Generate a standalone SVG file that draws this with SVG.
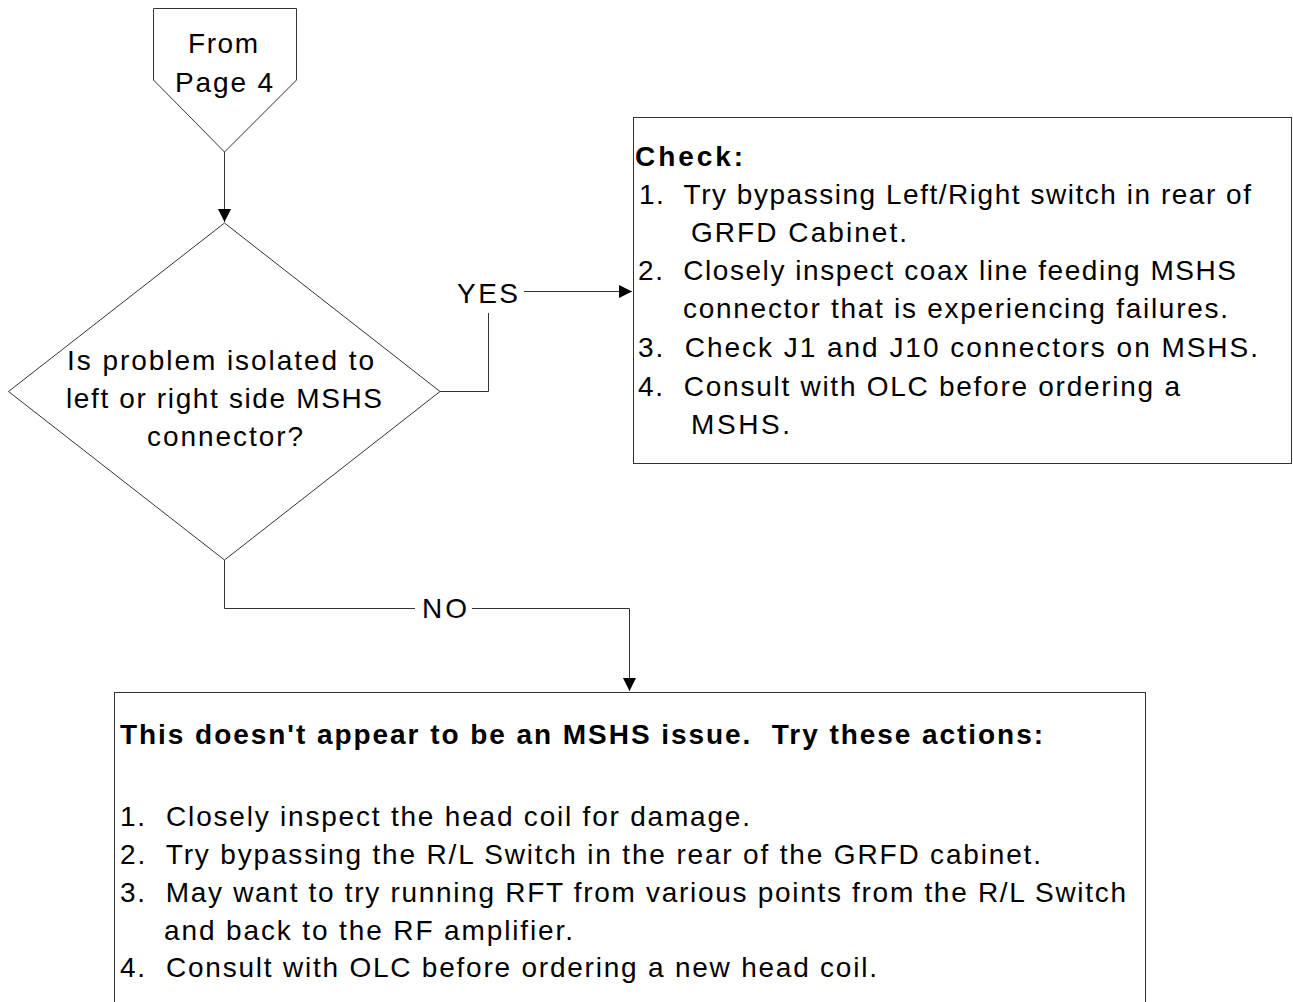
<svg xmlns="http://www.w3.org/2000/svg" width="1293" height="1002" viewBox="0 0 1293 1002">
<style>
text{font-family:"Liberation Sans",Arial,sans-serif;font-size:28px;fill:#000;white-space:pre}
.b{font-weight:bold}
.shape{fill:#fff;stroke:#333;stroke-width:1}
.line{fill:none;stroke:#333;stroke-width:1}
</style>
<defs>
<marker id="arr" markerUnits="userSpaceOnUse" markerWidth="14" markerHeight="14" refX="13" refY="7" orient="auto">
<path d="M0,0.5 L13,7 L0,13.5 Z" fill="#000"/>
</marker>
</defs>
<rect width="1293" height="1002" fill="#fff"/>

<g id="connectors">
<path class="line" d="M224.5,152 V222" marker-end="url(#arr)"/>
<path class="line" d="M440,391.5 H488.5 V313"/>
<path class="line" d="M524,291.5 H632" marker-end="url(#arr)"/>
<path class="line" d="M224.5,560 V608.5 H415"/>
<path class="line" d="M472,608.5 H629.5 V691" marker-end="url(#arr)"/>
<text x="457" y="303" textLength="61" lengthAdjust="spacing">YES</text>
<text x="422" y="618" textLength="45" lengthAdjust="spacing">NO</text>
</g>

<g id="node-offpage">
<polygon class="shape" points="153.5,8.5 296.5,8.5 296.5,80 224.5,152 153.5,80"/>
<text x="188" y="53" textLength="70" lengthAdjust="spacing">From</text>
<text x="175" y="92" textLength="98" lengthAdjust="spacing">Page 4</text>
</g>

<g id="node-decision">
<polygon class="shape" points="224.5,223 440,391.5 224.5,560 8.5,391.5"/>
<text x="67" y="370" textLength="307" lengthAdjust="spacing">Is problem isolated to</text>
<text x="66" y="408" textLength="316" lengthAdjust="spacing">left or right side MSHS</text>
<text x="147" y="446" textLength="156" lengthAdjust="spacing">connector?</text>
</g>

<g id="node-check">
<rect class="shape" x="633.5" y="117.5" width="658" height="346"/>
<text class="b" x="635" y="166" textLength="108" lengthAdjust="spacing">Check:</text>
<text x="639" y="204" textLength="612" lengthAdjust="spacing">1.  Try bypassing Left/Right switch in rear of</text>
<text x="691" y="242" textLength="216" lengthAdjust="spacing">GRFD Cabinet.</text>
<text x="638" y="280" textLength="598" lengthAdjust="spacing">2.  Closely inspect coax line feeding MSHS</text>
<text x="683" y="318" textLength="545" lengthAdjust="spacing">connector that is experiencing failures.</text>
<text x="638" y="357" textLength="620" lengthAdjust="spacing">3.  Check J1 and J10 connectors on MSHS.</text>
<text x="638" y="396" textLength="542" lengthAdjust="spacing">4.  Consult with OLC before ordering a</text>
<text x="691" y="434" textLength="99" lengthAdjust="spacing">MSHS.</text>
</g>

<g id="node-actions">
<rect class="shape" x="114.5" y="692.5" width="1031" height="330"/>
<text class="b" x="120" y="744" textLength="923" lengthAdjust="spacing">This doesn't appear to be an MSHS issue.  Try these actions:</text>
<text x="120" y="826" textLength="630" lengthAdjust="spacing">1.  Closely inspect the head coil for damage.</text>
<text x="120" y="864" textLength="921" lengthAdjust="spacing">2.  Try bypassing the R/L Switch in the rear of the GRFD cabinet.</text>
<text x="120" y="902" textLength="1006" lengthAdjust="spacing">3.  May want to try running RFT from various points from the R/L Switch</text>
<text x="164" y="940" textLength="409" lengthAdjust="spacing">and back to the RF amplifier.</text>
<text x="120" y="977" textLength="757" lengthAdjust="spacing">4.  Consult with OLC before ordering a new head coil.</text>
</g>
</svg>
